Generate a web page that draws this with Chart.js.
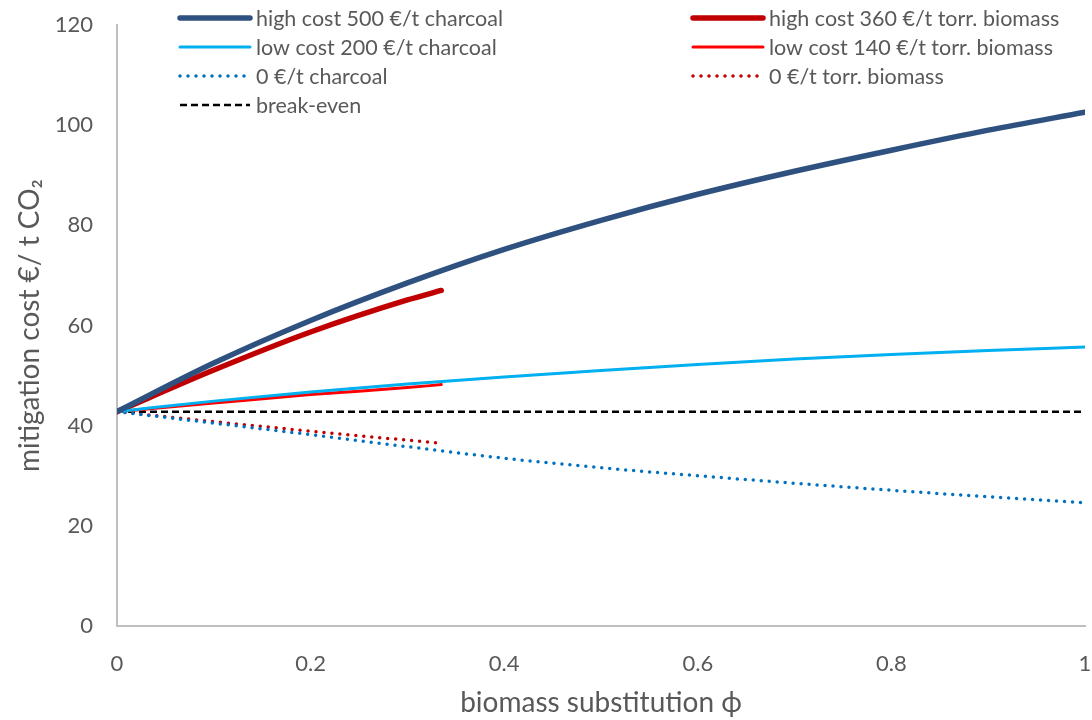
<!DOCTYPE html>
<html>
<head>
<meta charset="utf-8">
<script src="https://cdn.jsdelivr.net/npm/chart.js@4"></script>
<style>
  html, body { margin: 0; padding: 0; background: #fff; }
  #wrap { width: 1092px; height: 720px; }
</style>
</head>
<body>
<div id="wrap"><canvas id="mitigationChart"></canvas></div>
<script>
// biomass substitution values
const phiCharcoal = [0, 0.1, 0.2, 0.3, 0.4, 0.5, 0.6, 0.7, 0.8, 0.9, 1.0];
const phiTorr = [0, 0.1, 0.2, 0.3, 0.335];
const phiBreakEven = [0, 1];

// mitigation cost in €/t CO2
const highCharcoal = [42.8, 52.5, 61.0, 68.5, 75.2, 81.0, 86.2, 90.8, 95.0, 99.0, 102.6];
const lowCharcoal = [42.8, 44.9, 46.7, 48.3, 49.7, 51.0, 52.2, 53.3, 54.2, 55.0, 55.7];
const zeroCharcoal = [42.8, 40.5, 38.2, 35.8, 33.5, 31.6, 30.0, 28.5, 27.1, 25.8, 24.6];
const highTorr = [42.8, 51.1, 58.7, 65.1, 67.0];
const lowTorr = [42.8, 44.5, 46.2, 47.6, 48.2];
const zeroTorr = [42.8, 40.8, 38.9, 37.1, 36.5];
const breakEven = [42.8, 42.8];

const xTicks = [0, 0.2, 0.4, 0.6, 0.8, 1];

const FONT = "Lato, 'Open Sans', sans-serif";
const TEXT = "#595959";

function pts(xs, ys) {
  return xs.map((x, i) => ({ x: x, y: ys[i] }));
}

// legend drawn inside the plot, two columns like the original
const legendSlots = [
  { x: 180, y: 18 },  // high charcoal
  { x: 180, y: 47 },  // low charcoal
  { x: 180, y: 76 },  // 0 charcoal
  { x: 693, y: 18 },  // high torr
  { x: 693, y: 47 },  // low torr
  { x: 693, y: 76 },  // 0 torr
  { x: 180, y: 105 }, // break-even
];

const insideLegend = {
  id: "insideLegend",
  afterDatasetsDraw(chart) {
    const ctx = chart.ctx;
    ctx.save();
    chart.data.datasets.forEach((ds, i) => {
      const slot = legendSlots[i];
      if (!slot) return;
      ctx.strokeStyle = ds.borderColor;
      ctx.lineWidth = ds.borderWidth;
      ctx.lineCap = ds.borderCapStyle || "butt";
      ctx.setLineDash(ds.borderDash || []);
      ctx.beginPath();
      ctx.moveTo(slot.x, slot.y);
      ctx.lineTo(slot.x + 70, slot.y);
      ctx.stroke();
      ctx.setLineDash([]);
      ctx.fillStyle = TEXT;
      ctx.font = "21.5px " + FONT;
      ctx.textBaseline = "middle";
      ctx.fillText(ds.label, slot.x + 76, slot.y + 1);
    });
    ctx.restore();
  },
};

const dotted = { borderWidth: 3.5, borderDash: [0, 8], borderCapStyle: "round" };

new Chart(document.getElementById("mitigationChart"), {
  type: "line",
  data: {
    datasets: [
      { label: "high cost 500 €/t charcoal", data: pts(phiCharcoal, highCharcoal), borderColor: "#2E5180", borderWidth: 5.5, borderCapStyle: "round" },
      { label: "low cost 200 €/t charcoal", data: pts(phiCharcoal, lowCharcoal), borderColor: "#00B0F0", borderWidth: 3, borderCapStyle: "round" },
      Object.assign({ label: "0 €/t charcoal", data: pts(phiCharcoal, zeroCharcoal), borderColor: "#0070C0" }, dotted),
      { label: "high cost 360 €/t torr. biomass", data: pts(phiTorr, highTorr), borderColor: "#C00000", borderWidth: 5.5, borderCapStyle: "round" },
      { label: "low cost 140 €/t torr. biomass", data: pts(phiTorr, lowTorr), borderColor: "#FF0000", borderWidth: 3, borderCapStyle: "round" },
      Object.assign({ label: "0 €/t torr. biomass", data: pts(phiTorr, zeroTorr), borderColor: "#C00000" }, dotted),
      { label: "break-even", data: pts(phiBreakEven, breakEven), borderColor: "#000000", borderWidth: 2.5, borderDash: [7, 4] },
    ],
  },
  options: {
    responsive: true,
    maintainAspectRatio: false,
    animation: false,
    events: [],
    elements: {
      point: { radius: 0 },
      line: { tension: 0.4, cubicInterpolationMode: "monotone" },
    },
    layout: { padding: { top: 25, right: 7, left: 0, bottom: 0 } },
    scales: {
      x: {
        type: "linear",
        min: 0,
        max: 1,
        afterBuildTicks(scale) {
          scale.ticks = xTicks.map((v) => ({ value: v }));
        },
        afterFit(scale) {
          scale.height = 94;
          scale.paddingLeft = 0;
          scale.paddingRight = 0;
        },
        grid: { display: false },
        border: { display: true, color: "#BFBFBF", width: 2 },
        ticks: {
          color: TEXT,
          font: { family: FONT, size: 22 },
          padding: 17,
          maxRotation: 0,
          callback: (v) => String(v),
        },
        title: {
          display: true,
          text: "biomass substitution ϕ",
          color: TEXT,
          font: { family: FONT, size: 28 },
          padding: { top: 0, bottom: 0 },
        },
      },
      y: {
        min: 0,
        max: 120,
        afterFit(scale) {
          scale.width = 117;
          scale.paddingTop = 0;
          scale.paddingBottom = 0;
        },
        grid: { display: false },
        border: { display: true, color: "#BFBFBF", width: 2 },
        ticks: {
          stepSize: 20,
          color: TEXT,
          font: { family: FONT, size: 22 },
          padding: 16,
        },
        title: {
          display: true,
          text: "mitigation cost €/ t CO₂",
          color: TEXT,
          font: { family: FONT, size: 28 },
          padding: { top: 13, bottom: 0 },
        },
      },
    },
    plugins: {
      legend: { display: false },
      tooltip: { enabled: false },
    },
  },
  plugins: [insideLegend],
});
</script>
</body>
</html>
